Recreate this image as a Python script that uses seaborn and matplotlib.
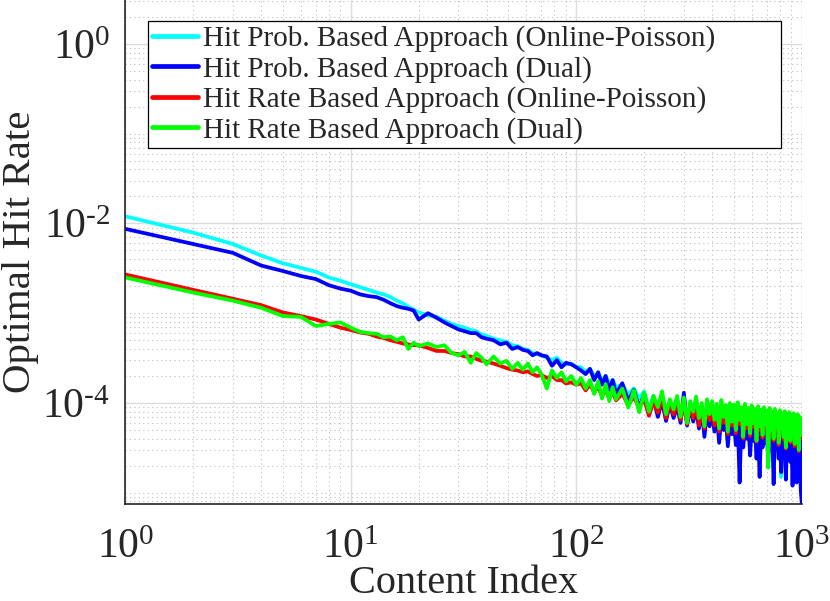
import numpy as np
import pandas as pd
import matplotlib
matplotlib.use("Agg")
import matplotlib.pyplot as plt
import seaborn as sns
from matplotlib.ticker import FixedLocator, LogLocator, NullFormatter, FuncFormatter

# Content index (x) shared by all four curves
content_index = [1, 2, 3, 4, 5, 6, 7, 8, 9, 10,
                 11, 12, 13, 14, 15, 16, 17, 18, 19, 20,
                 22, 24, 26, 28, 30, 32, 34, 36, 38, 40,
                 43, 46, 49, 52, 55, 58, 61, 64, 67, 70,
                 74, 78, 82, 86, 90, 95, 100,
                 105, 110, 115, 120, 125, 130, 135, 140, 145, 150,
                 160, 170, 180, 190,
                 200, 210, 220, 230, 240, 250, 260, 270, 280, 290,
                 300, 310, 320, 330, 340, 350, 360, 370, 380, 390,
                 400, 410, 420, 430, 440, 450, 460, 470, 480, 490,
                 500, 510, 520, 530, 540, 550, 560, 570, 580, 590,
                 600, 610, 620, 630, 640, 650, 660, 670, 680, 690,
                 700, 710, 720, 730, 740, 750, 760, 770, 780, 790,
                 800, 810, 820, 830, 840, 850, 860, 870, 880, 890,
                 900, 910, 920, 930, 940, 950, 960, 970, 980, 990, 1000]

hit_prob_online = [1.20e-2, 7.9e-3, 5.9e-3, 4.4e-3, 3.6e-3, 3.2e-3, 2.9e-3, 2.5e-3, 2.3e-3, 2.1e-3,
                   1.95e-3, 1.82e-3, 1.70e-3, 1.62e-3, 1.51e-3, 1.38e-3, 1.29e-3, 1.17e-3, 1.10e-3, 1.02e-3,
                   9.5e-4, 9.1e-4, 8.3e-4, 7.6e-4, 7.2e-4, 6.9e-4, 6.5e-4, 6.3e-4, 5.8e-4, 5.6e-4,
                   5.2e-4, 5.0e-4, 4.8e-4, 4.4e-4, 4.3e-4, 4.0e-4, 3.9e-4, 3.6e-4, 3.5e-4, 3.4e-4,
                   3.2e-4, 3.0e-4, 3.2e-4, 2.8e-4, 2.7e-4, 2.75e-4, 2.5e-4,
                   2.5e-4, 2.2e-4, 2.4e-4, 2.0e-4, 2.15e-4, 1.8e-4, 2.0e-4, 1.65e-4, 1.8e-4, 1.5e-4,
                   1.6e-4, 1.25e-4, 1.45e-4, 1.12e-4,
                   1.35e-4, 8.5e-5, 1.2e-4, 8.0e-5, 1.15e-4, 7.2e-5, 1.05e-4, 7.6e-5, 1.0e-4, 6.8e-5,
                   1.05e-4, 6.2e-5, 9.6e-5, 7.0e-5, 9.3e-5, 5.8e-5, 9.0e-5, 5.0e-5, 8.6e-5, 6.2e-5,
                   8.4e-5, 5.4e-5, 8.0e-5, 4.2e-5, 7.8e-5, 5.6e-5, 7.5e-5, 3.8e-5, 7.2e-5, 5.0e-5,
                   6.9e-5, 3.9e-5, 7.0e-5, 4.6e-5, 6.6e-5, 3.6e-5, 6.4e-5, 4.5e-5, 6.2e-5, 3.0e-5,
                   6.3e-5, 4.2e-5, 5.9e-5, 2.8e-5, 6.0e-5, 3.8e-5, 5.6e-5, 3.5e-5, 5.8e-5, 4.0e-5,
                   5.4e-5, 2.6e-5, 5.6e-5, 3.4e-5, 5.2e-5, 2.5e-5, 5.4e-5, 3.8e-5, 5.0e-5, 2.8e-5,
                   5.2e-5, 1.5e-5, 4.9e-5, 3.2e-5, 5.1e-5, 2.2e-5, 4.8e-5, 3.3e-5, 5.0e-5, 2.6e-5,
                   4.7e-5, 2.0e-5, 4.9e-5, 3.0e-5, 4.6e-5, 2.1e-5, 4.8e-5, 2.7e-5, 4.5e-5, 2.4e-5, 4.5e-5]

hit_prob_dual = [8.7e-3, 5.9e-3, 4.7e-3, 3.4e-3, 2.95e-3, 2.6e-3, 2.4e-3, 2.05e-3, 1.88e-3, 1.78e-3,
                 1.62e-3, 1.55e-3, 1.51e-3, 1.41e-3, 1.29e-3, 1.20e-3, 1.15e-3, 1.12e-3, 1.07e-3, 8.5e-4,
                 1.0e-3, 8.9e-4, 7.9e-4, 7.2e-4, 6.6e-4, 6.3e-4, 6.0e-4, 6.0e-4, 5.4e-4, 5.2e-4,
                 5.0e-4, 4.5e-4, 4.7e-4, 4.0e-4, 4.2e-4, 3.9e-4, 3.8e-4, 3.4e-4, 3.6e-4, 3.4e-4,
                 3.3e-4, 2.6e-4, 3.0e-4, 2.5e-4, 2.8e-4, 2.7e-4, 2.5e-4,
                 2.3e-4, 2.1e-4, 2.4e-4, 1.8e-4, 2.2e-4, 1.6e-4, 2.0e-4, 1.4e-4, 1.8e-4, 1.26e-4,
                 1.66e-4, 1.05e-4, 1.4e-4, 8.9e-5,
                 1.25e-4, 7.5e-5, 1.1e-4, 7.0e-5, 1.05e-4, 6.3e-5, 9.8e-5, 6.8e-5, 9.2e-5, 6.0e-5,
                 1.3e-4, 5.6e-5, 9.0e-5, 6.2e-5, 8.6e-5, 5.2e-5, 8.4e-5, 4.2e-5, 8.0e-5, 5.5e-5,
                 7.8e-5, 4.8e-5, 7.4e-5, 3.6e-5, 7.2e-5, 5.0e-5, 6.9e-5, 3.3e-5, 6.6e-5, 4.5e-5,
                 6.3e-5, 3.4e-5, 6.4e-5, 1.3e-5, 6.0e-5, 3.2e-5, 5.8e-5, 4.0e-5, 5.6e-5, 2.6e-5,
                 5.7e-5, 3.8e-5, 5.3e-5, 2.4e-5, 5.4e-5, 1.5e-5, 5.0e-5, 3.2e-5, 5.2e-5, 3.6e-5,
                 4.8e-5, 2.2e-5, 5.0e-5, 3.0e-5, 4.6e-5, 1.25e-5, 4.8e-5, 3.4e-5, 4.4e-5, 2.4e-5,
                 4.6e-5, 1.7e-5, 4.3e-5, 2.8e-5, 4.5e-5, 1.4e-5, 4.2e-5, 2.9e-5, 4.4e-5, 2.2e-5,
                 4.1e-5, 1.2e-5, 4.3e-5, 2.6e-5, 4.0e-5, 1.3e-5, 4.2e-5, 2.3e-5, 3.9e-5, 1.05e-5, 7.6e-6]

hit_rate_online = [2.7e-3, 1.82e-3, 1.45e-3, 1.23e-3, 1.02e-3, 9.3e-4, 8.5e-4, 7.6e-4, 6.9e-4, 6.5e-4,
                   6.1e-4, 5.9e-4, 5.5e-4, 5.3e-4, 5.0e-4, 4.8e-4, 4.6e-4, 4.5e-4, 4.4e-4, 4.4e-4,
                   4.1e-4, 3.8e-4, 3.8e-4, 3.6e-4, 3.5e-4, 3.3e-4, 3.3e-4, 3.1e-4, 2.95e-4, 2.9e-4,
                   2.75e-4, 2.6e-4, 2.45e-4, 2.35e-4, 2.3e-4, 2.2e-4, 2.25e-4, 2.1e-4, 2.0e-4, 2.05e-4,
                   1.9e-4, 2.0e-4, 1.8e-4, 1.8e-4, 1.65e-4, 1.7e-4, 1.6e-4,
                   1.66e-4, 1.38e-4, 1.6e-4, 1.32e-4, 1.5e-4, 1.2e-4, 1.4e-4, 1.12e-4, 1.32e-4, 1.07e-4,
                   1.26e-4, 9.5e-5, 1.17e-4, 8.9e-5,
                   1.1e-4, 7.2e-5, 1.05e-4, 7.8e-5, 1.15e-4, 6.8e-5, 1.0e-4, 7.5e-5, 1.02e-4, 6.5e-5,
                   1.0e-4, 5.8e-5, 9.5e-5, 6.8e-5, 9.8e-5, 5.6e-5, 9.2e-5, 5.2e-5, 9.4e-5, 6.4e-5,
                   9.0e-5, 5.6e-5, 8.8e-5, 4.8e-5, 9.1e-5, 6.0e-5, 8.5e-5, 4.5e-5, 8.8e-5, 5.6e-5,
                   8.4e-5, 4.6e-5, 8.8e-5, 5.8e-5, 8.0e-5, 4.0e-5, 8.5e-5, 5.2e-5, 7.8e-5, 4.3e-5,
                   8.2e-5, 5.4e-5, 7.6e-5, 3.7e-5, 8.0e-5, 5.0e-5, 7.4e-5, 4.1e-5, 7.9e-5, 5.2e-5,
                   7.3e-5, 3.4e-5, 7.7e-5, 4.6e-5, 7.1e-5, 3.8e-5, 7.5e-5, 5.0e-5, 6.9e-5, 3.4e-5,
                   7.3e-5, 4.8e-5, 6.8e-5, 3.9e-5, 7.1e-5, 3.1e-5, 6.7e-5, 4.6e-5, 7.0e-5, 3.6e-5,
                   6.5e-5, 4.3e-5, 6.9e-5, 3.3e-5, 6.4e-5, 4.4e-5, 6.7e-5, 2.9e-5, 6.3e-5, 4.1e-5, 6.3e-5]

hit_rate_dual = [2.5e-3, 1.7e-3, 1.38e-3, 1.15e-3, 9.3e-4, 9.1e-4, 7.2e-4, 7.6e-4, 7.9e-4, 6.9e-4,
                 6.2e-4, 6.0e-4, 5.9e-4, 5.4e-4, 5.5e-4, 5.0e-4, 5.4e-4, 4.0e-4, 4.7e-4, 4.3e-4,
                 4.6e-4, 4.2e-4, 4.4e-4, 3.6e-4, 3.4e-4, 3.7e-4, 2.8e-4, 3.6e-4, 3.2e-4, 2.7e-4,
                 3.3e-4, 2.75e-4, 2.95e-4, 2.4e-4, 2.8e-4, 2.35e-4, 2.75e-4, 2.2e-4, 2.5e-4, 2.1e-4,
                 1.45e-4, 2.3e-4, 1.9e-4, 2.2e-4, 1.74e-4, 2.0e-4, 1.6e-4,
                 1.9e-4, 1.45e-4, 1.8e-4, 1.26e-4, 1.74e-4, 1.12e-4, 1.62e-4, 1.05e-4, 1.5e-4, 1.1e-4,
                 1.45e-4, 8.9e-5, 1.38e-4, 7.9e-5,
                 1.3e-4, 8.0e-5, 1.2e-4, 9.0e-5, 1.35e-4, 7.5e-5, 1.1e-4, 8.5e-5, 1.2e-4, 7.0e-5,
                 1.15e-4, 6.0e-5, 1.05e-4, 8.0e-5, 1.18e-4, 6.8e-5, 1.0e-4, 5.5e-5, 1.1e-4, 7.5e-5,
                 1.05e-4, 6.5e-5, 9.8e-5, 5.2e-5, 1.08e-4, 7.0e-5, 9.5e-5, 4.8e-5, 1.0e-4, 6.2e-5,
                 9.6e-5, 5.0e-5, 1.02e-4, 6.5e-5, 9.0e-5, 4.2e-5, 9.8e-5, 5.8e-5, 8.8e-5, 4.6e-5,
                 9.4e-5, 6.0e-5, 8.6e-5, 3.8e-5, 9.2e-5, 5.5e-5, 8.4e-5, 4.4e-5, 9.0e-5, 5.8e-5,
                 8.2e-5, 1.9e-5, 8.8e-5, 5.0e-5, 8.0e-5, 4.0e-5, 8.6e-5, 5.5e-5, 7.8e-5, 3.6e-5,
                 8.3e-5, 5.2e-5, 7.6e-5, 4.2e-5, 8.1e-5, 3.2e-5, 7.5e-5, 5.0e-5, 7.9e-5, 3.8e-5,
                 7.3e-5, 4.6e-5, 7.7e-5, 3.5e-5, 7.2e-5, 4.8e-5, 7.5e-5, 3.0e-5, 7.0e-5, 4.4e-5, 6.6e-5]

series_names = ['Hit Prob. Based Approach (Online-Poisson)',
                'Hit Prob. Based Approach (Dual)',
                'Hit Rate Based Approach (Online-Poisson)',
                'Hit Rate Based Approach (Dual)']
line_colors = ['#00FFFF', '#0000FF', '#FF0000', '#00FF00']

# long-form table for seaborn
frames = []
for name, vals in zip(series_names, [hit_prob_online, hit_prob_dual, hit_rate_online, hit_rate_dual]):
    frames.append(pd.DataFrame({'Content Index': content_index, 'Hit Rate': vals, 'series': name}))
df = pd.concat(frames, ignore_index=True)


def power_label(v, pos):
    # 10^k with a short hyphen for negative powers, like the original figure
    e = int(round(np.log10(v)))
    exp = str(e) if e >= 0 else r'\text{-}%d' % (-e)
    return r'$\mathdefault{10^{%s}}$' % exp


sns.set_theme(style="white")
plt.rcParams['font.family'] = ['Liberation Serif', 'DejaVu Serif']
plt.rcParams['mathtext.fontset'] = 'custom'
plt.rcParams['mathtext.rm'] = 'Liberation Serif'

fig = plt.figure(figsize=(8.3, 6.01), dpi=100)
ax = fig.add_axes([0.151, 0.1614, 0.815, 0.8386])

sns.lineplot(data=df, x='Content Index', y='Hit Rate', hue='series', hue_order=series_names,
             palette=dict(zip(series_names, line_colors)), estimator=None, linewidth=2.7,
             ax=ax)

ax.set_xscale('log')
ax.set_yscale('log')
ax.set_xlim(1, 1000)
ax.set_ylim(7.5e-6, 3.08)

ax.yaxis.set_major_locator(FixedLocator([1e-4, 1e-2, 1e0]))
ax.yaxis.set_major_formatter(FuncFormatter(power_label))
ax.yaxis.set_minor_locator(LogLocator(base=10, subs=np.arange(1, 10), numticks=100))
ax.yaxis.set_minor_formatter(NullFormatter())
ax.xaxis.set_major_locator(FixedLocator([1, 10, 100, 1000]))
ax.xaxis.set_major_formatter(FuncFormatter(power_label))
ax.xaxis.set_minor_locator(LogLocator(base=10, subs=np.arange(2, 10), numticks=100))
ax.xaxis.set_minor_formatter(NullFormatter())

ax.grid(which='major', color='#dcdcdc', linewidth=1.0, linestyle='-')
ax.grid(which='minor', color='#bdbdbd', linewidth=0.8, linestyle=(0, (1, 3)))
ax.set_axisbelow(True)

for side in ['top', 'right']:
    ax.spines[side].set_visible(False)
for side in ['left', 'bottom']:
    ax.spines[side].set_color('#262626')
    ax.spines[side].set_linewidth(1.2)

ax.tick_params(which='both', direction='in', colors='#262626', labelsize=30)
ax.tick_params(which='major', length=7, width=1.0)
ax.tick_params(which='minor', length=3.5, width=0.8)
ax.tick_params(axis='x', pad=18)
ax.tick_params(axis='y', pad=11)

ax.set_xlabel('Content Index', fontsize=29, color='#262626', labelpad=-2)
ax.set_ylabel('Optimal Hit Rate', fontsize=29.5, color='#262626')
ax.yaxis.set_label_coords(-0.128, 0.5)

handles, labels = ax.get_legend_handles_labels()
leg = ax.legend(handles, labels, loc='upper left', bbox_to_anchor=(0.0335, 0.706, 0.9365, 0.252),
                mode='expand', borderaxespad=0, fontsize=21, frameon=True, fancybox=False,
                edgecolor='black', framealpha=1, handlelength=1.55, handletextpad=0.17,
                labelspacing=0.12, borderpad=0.15)
leg.get_frame().set_linewidth(0.9)
for line in leg.get_lines():
    line.set_linewidth(3.4)

fig.savefig('out.png', dpi=100)
